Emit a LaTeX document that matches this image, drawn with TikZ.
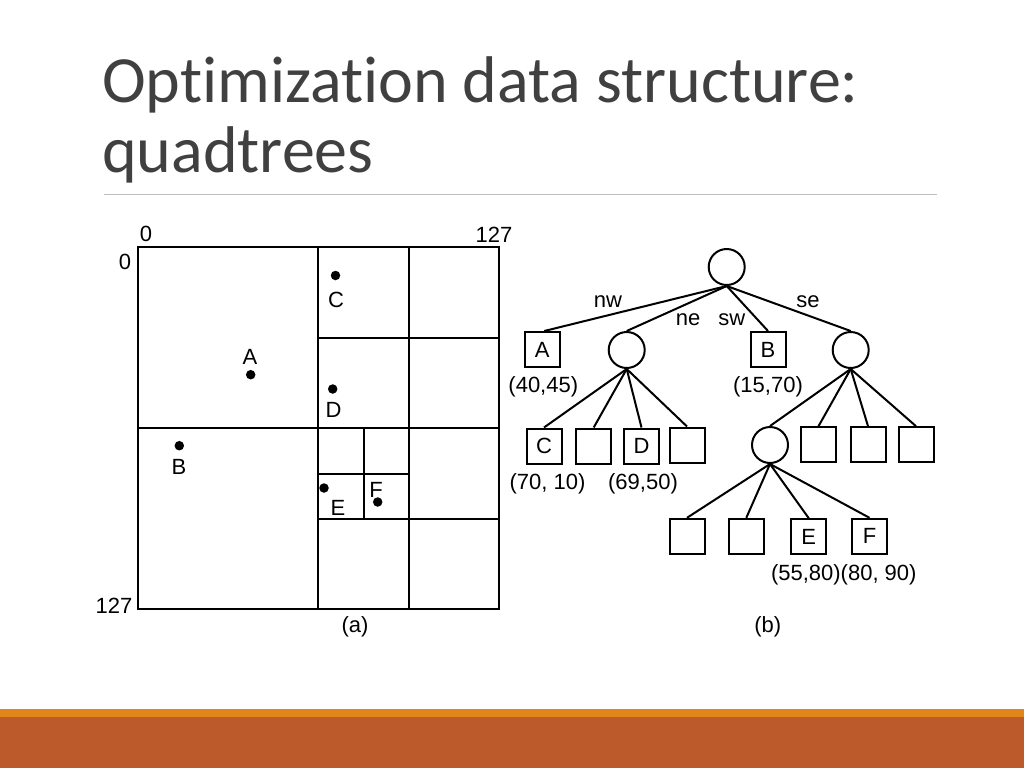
\documentclass[tikz,border=0pt]{standalone}
\usepackage{fontspec}
\setmainfont{Liberation Sans}
\newfontfamily\titlefont[Ligatures=NoCommon]{Carlito}
\definecolor{titlegray}{HTML}{404040}
\definecolor{rulegray}{HTML}{BFBFBF}
\definecolor{barorange}{HTML}{E0861A}
\definecolor{barbrown}{HTML}{BC5A2C}
\begin{document}
\begin{tikzpicture}[x=1pt,y=-1pt,
  lbl/.style={font=\fontsize{22}{24}\selectfont, inner sep=0pt},
  ln/.style={line width=2pt},
  inode/.style={circle, draw, line width=2pt, minimum size=36pt, inner sep=0pt},
  leaf/.style={rectangle, draw, line width=2pt, minimum size=35pt, inner sep=0pt, font=\fontsize{22}{24}\selectfont},
  dot/.style={circle, fill, minimum size=9.5pt, inner sep=0pt}]
\useasboundingbox (0,0) rectangle (1024,768);
% background bars
\fill[barorange] (0,709) rectangle (1024,717);
\fill[barbrown] (0,717) rectangle (1024,768);
% title
\node[anchor=base west, inner sep=0pt, text=titlegray, font=\titlefont\fontsize{66}{66}\selectfont] (t1) at (102,102) {Optimization data structure:};
\node[anchor=base west, inner sep=0pt, text=titlegray, font=\titlefont\fontsize{66}{66}\selectfont] (t2) at (102,172) {quadtrees};
\draw[rulegray, line width=1pt] (104,194) -- (937,194);
% ---- (a) quadtree grid ----
\draw[ln] (138,247) rectangle (499,609);
\draw[ln] (318,247) -- (318,609);
\draw[ln] (409,247) -- (409,609);
\draw[ln] (138,428) -- (499,428);
\draw[ln] (318,338) -- (499,338);
\draw[ln] (318,519) -- (499,519);
\draw[ln] (364,428) -- (364,519);
\draw[ln] (318,474) -- (409,474);
% points
\node[dot] (pC) at (335.5,275.5) {};
\node[lbl] (lC) at (336,300) {C};
\node[dot] (pA) at (250.7,374.7) {};
\node[lbl] (lA) at (250,357) {A};
\node[dot] (pD) at (332.7,389) {};
\node[lbl] (lD) at (333.5,410) {D};
\node[dot] (pB) at (179.3,445.7) {};
\node[lbl] (lB) at (179,467) {B};
\node[dot] (pE) at (324,488) {};
\node[lbl] (lE) at (338,507.5) {E};
\node[lbl] (lF) at (376,489.5) {F};
\node[dot] (pF) at (377.7,502) {};
% axis labels
\node[lbl] (x0) at (146,234) {0};
\node[lbl] (x127) at (494,235) {127};
\node[lbl] (y0) at (125,262) {0};
\node[lbl] (y127) at (114,606) {127};
\node[lbl] (capa) at (355,627) {(a)};
% ---- (b) tree ----
\node[inode] (root) at (726.7,267) {};
\node[leaf] (A) at (542.3,349.5) {A};
\node[inode] (ne) at (626.7,350) {};
\node[leaf] (B) at (768,349.5) {B};
\node[inode] (se) at (850.7,350) {};
\draw[ln] (root.south) -- ([xshift=2pt]A.north);
\draw[ln] (root.south) -- (ne.north);
\draw[ln] (root.south) -- (B.north);
\draw[ln] (root.south) -- (se.north);
\node[lbl] (nw) at (608,301.7) {nw};
\node[lbl] (nel) at (688,320) {ne};
\node[lbl] (sw) at (731.7,320) {sw};
\node[lbl] (sel) at (808,301.7) {se};
\node[lbl] (cA) at (543.3,386.7) {(40,45)};
\node[lbl] (cB) at (768,386.7) {(15,70)};
% under ne
\node[leaf] (C) at (544,446) {C};
\node[leaf] (n2) at (593.7,446) {};
\node[leaf] (D) at (641.5,446) {D};
\node[leaf] (n4) at (687,445) {};
\foreach \c in {C,n2,D,n4} \draw[ln] (ne.south) -- (\c.north);
\node[lbl] (cC) at (547.5,483.5) {(70, 10)};
\node[lbl] (cD) at (643,483.5) {(69,50)};
% under se
\node[inode] (sub) at (770,445) {};
\node[leaf] (s2) at (818.5,444.7) {};
\node[leaf] (s3) at (868,444.7) {};
\node[leaf] (s4) at (916,444.7) {};
\foreach \c in {sub,s2,s3,s4} \draw[ln] (se.south) -- (\c.north);
% level 3
\node[leaf] (t1l) at (687,536.3) {};
\node[leaf] (t2l) at (746.3,536.3) {};
\node[leaf] (E) at (808.8,536.8) {E};
\node[leaf] (F) at (869.5,536.3) {F};
\foreach \c in {t1l,t2l,E,F} \draw[ln] (sub.south) -- (\c.north);
\node[lbl] (cEF) at (843.8,575) {(55,80)(80, 90)};
\node[lbl] (capb) at (767.7,626.7) {(b)};
\end{tikzpicture}
\end{document}
